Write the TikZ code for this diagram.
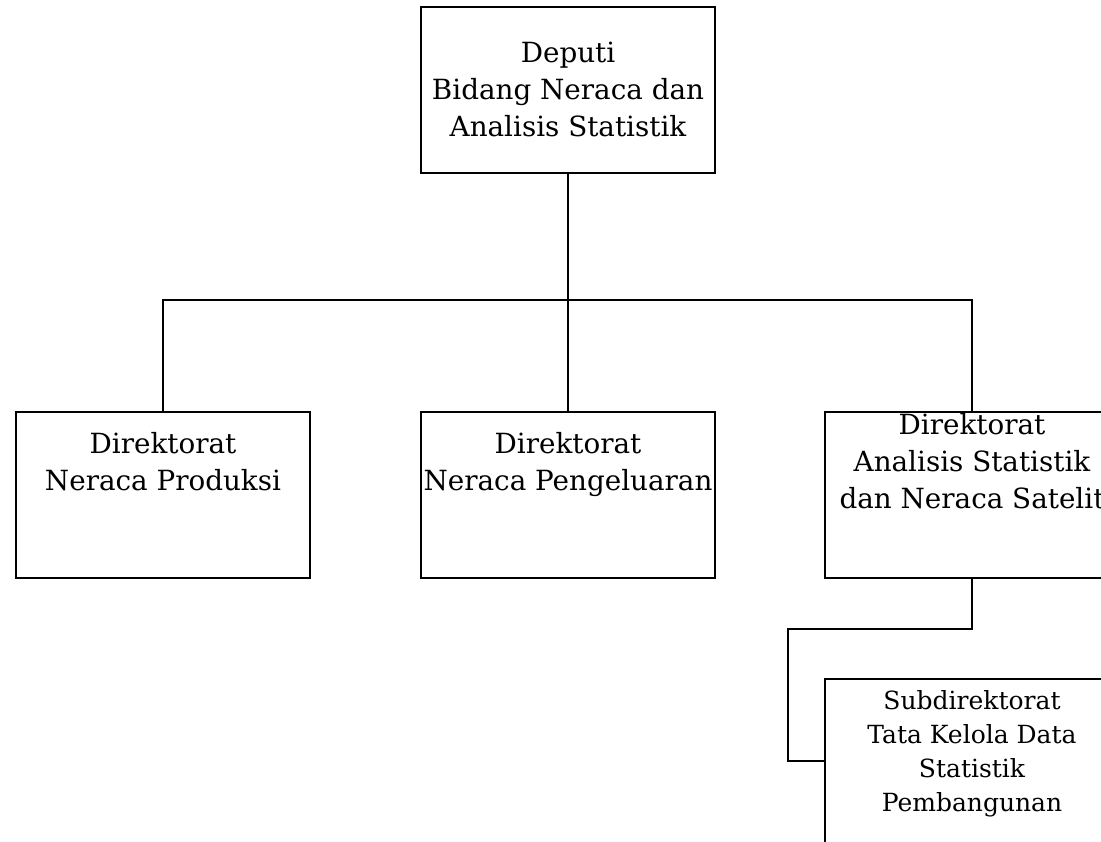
\documentclass[tikz,border=0pt]{standalone}
\usepackage{fontspec}
\setmainfont{DejaVu Serif}
\begin{document}
\begin{tikzpicture}[x=1pt,y=-1pt,
  box/.style={draw,line width=1.9pt,minimum width=294pt,minimum height=166pt,inner sep=0pt,outer sep=0pt,anchor=north west},
  txt/.style={align=center,inner sep=0pt,anchor=north,font=\fontsize{27.8}{37}\selectfont},
  smalltxt/.style={align=center,inner sep=0pt,anchor=north,font=\fontsize{25}{34}\selectfont},
  conn/.style={line width=1.9pt}]
\clip (0,0) rectangle (1101,842);
\fill[white] (0,0) rectangle (1101,842);
% boxes
\node[box] (top) at (421,7) {};
\node[box] (b1) at (16,412) {};
\node[box] (b2) at (421,412) {};
\node[box] (b3) at (825,412) {};
\node[box,minimum height=200pt] (b4) at (825,679) {};
% texts
\node[txt] (ttop) at (568,42) {Deputi\\Bidang Neraca dan\\Analisis Statistik};
\node[txt] (t1) at (163,432) {Direktorat\\Neraca Produksi};
\node[txt] (t2) at (568,432) {Direktorat\\Neraca Pengeluaran};
\node[txt] (t3) at (972,413) {Direktorat\\Analisis Statistik\\dan Neraca Satelit};
\node[smalltxt] (t4) at (972,690) {Subdirektorat\\Tata Kelola Data\\Statistik\\Pembangunan};
% connectors
\coordinate (bus) at (568,300);
\draw[conn] (top.south) -- (b2.north);
\draw[conn] (b1.north) |- (bus) -| (b3.north);
\draw[conn] (b3.south) -- (b3.south |- 0,629) -- (788,629) |- (b4.west |- 0,761);
\end{tikzpicture}
\end{document}
